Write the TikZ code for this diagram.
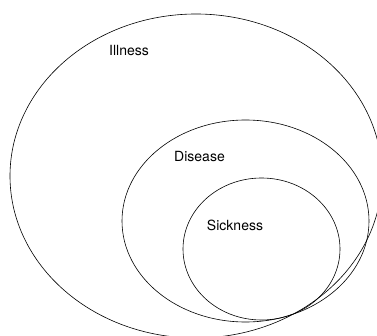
\documentclass[tikz,border=0pt]{standalone}
\usepackage{fontspec}
\setmainfont{TeX Gyre Heros}
\tikzset{
  setline/.style={line width=0.6pt,black},
  setlabel/.style={font=\fontsize{14}{16}\selectfont,inner sep=0pt}
}

\begin{document}
\begin{tikzpicture}[x=1pt,y=-1pt]
  \useasboundingbox (0,0) rectangle (377,336);
  % the three sets
  \draw[setline] (196,176) ellipse (186 and 162);
  \draw[setline] (245.5,221) ellipse (123.5 and 101);
  \draw[setline] (261.5,249) ellipse (78.5 and 71);
  % labels
  \node[setlabel] (illness) at (129,51) {Illness};
  \node[setlabel] (disease) at (199.5,157) {Disease};
  \node[setlabel] (sickness) at (235,225) {Sickness};
\end{tikzpicture}
\end{document}
